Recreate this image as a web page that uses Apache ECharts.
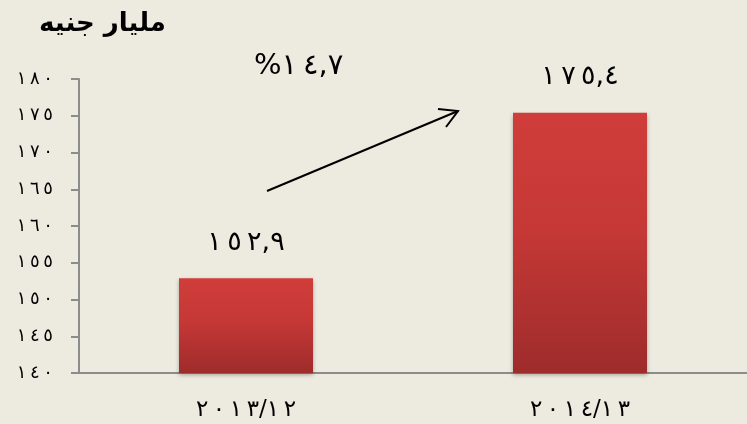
<!DOCTYPE html>
<html><head><meta charset="utf-8">
<script src="https://cdn.jsdelivr.net/npm/echarts@6/dist/echarts.min.js"></script>
<style>html,body{margin:0;padding:0;background:#EDEBE0;}#c{width:747px;height:424px;}</style>
</head><body><div id="c"></div>
<script>
const categories = ['٢٠١٣/١٢', '٢٠١٤/١٣'];
const values = [152.9, 175.4];
const yMin = 140, yMax = 180, yStep = 5;
const unitLabel = 'مليار جنيه';
const growthLabel = '%١٤,٧';

const NB = '\u202F';
const toArabic = s => String(s).replace(/[0-9]/g, d => '٠١٢٣٤٥٦٧٨٩'[+d]).replace('.', ',');
// slightly widen spacing between consecutive digits (narrow NBSP keeps digit order in bidi)
const spaced = s => s.replace(/([\u0660-\u0669])(?=[\u0660-\u0669])/g, '$1' + NB);

const chart = echarts.init(document.getElementById('c'));
chart.setOption({
  backgroundColor: '#EDEBE0',
  animation: false,
  grid: { left: 79, top: 79, bottom: 51, right: -2 },
  xAxis: {
    type: 'category', data: categories, boundaryGap: true,
    axisLine: { lineStyle: { color: '#8C8C8C', width: 2 } },
    axisTick: { length: 9, lineStyle: { color: '#8C8C8C', width: 2 } },
    axisLabel: { color: '#000', fontSize: 23, fontFamily: 'DejaVu Sans', margin: 26, formatter: v => spaced(v) }
  },
  yAxis: {
    type: 'value', min: yMin, max: yMax, interval: yStep,
    splitLine: { show: false },
    axisLine: { show: true, lineStyle: { color: '#8C8C8C', width: 2 } },
    axisTick: { show: true, length: 8, lineStyle: { color: '#8C8C8C', width: 2 } },
    axisLabel: { color: '#000', fontSize: 18, fontFamily: 'DejaVu Sans', margin: 26, formatter: v => spaced(toArabic(v)) }
  },
  series: [{
    type: 'bar', data: values, barWidth: 134,
    itemStyle: {
      color: new echarts.graphic.LinearGradient(0, 0, 0, 1, [
        { offset: 0, color: '#D03D3A' }, { offset: 0.45, color: '#C53836' }, { offset: 1, color: '#9E2C2B' }
      ]),
      shadowColor: 'rgba(0,0,0,0.3)', shadowBlur: 4, shadowOffsetY: 2
    },
    label: {
      show: true, position: 'top', distance: 22, color: '#000', fontSize: 27,
      fontFamily: 'DejaVu Sans', formatter: p => spaced(toArabic(p.value))
    }
  }],
  graphic: [
    { type: 'text', left: 39, top: 11, style: { text: unitLabel, fontSize: 26, fontWeight: 'bold', fontFamily: 'DejaVu Sans', fill: '#000' } },
    { type: 'text', left: 254, top: 52, style: { text: spaced(growthLabel), fontSize: 29, fontFamily: 'DejaVu Sans', fill: '#000' } },
    { type: 'line', shape: { x1: 267, y1: 191, x2: 458, y2: 111 }, style: { stroke: '#000', lineWidth: 2 } },
    { type: 'polyline', shape: { points: [[438, 109], [458, 111], [446, 127]] }, style: { stroke: '#000', lineWidth: 2, fill: null } }
  ]
});
</script></body></html>
